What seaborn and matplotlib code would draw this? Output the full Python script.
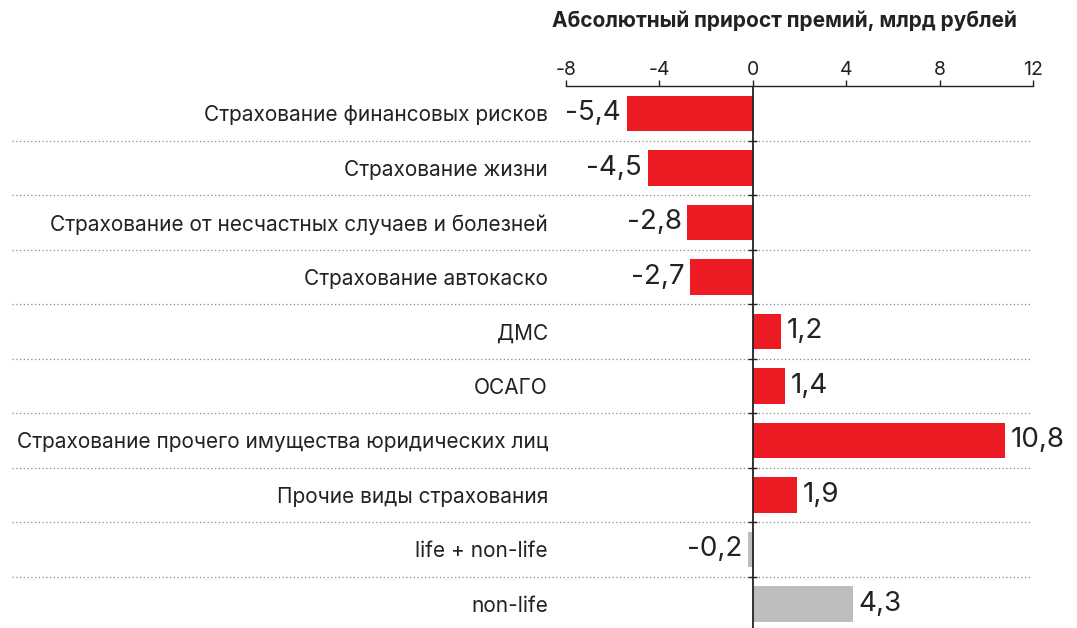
import seaborn as sns
import matplotlib.pyplot as plt
import pandas as pd

categories = [
    "Страхование финансовых рисков",
    "Страхование жизни",
    "Страхование от несчастных случаев и болезней",
    "Страхование автокаско",
    "ДМС",
    "ОСАГО",
    "Страхование прочего имущества юридических лиц",
    "Прочие виды страхования",
    "life + non-life",
    "non-life",
]
values = [-5.4, -4.5, -2.8, -2.7, 1.2, 1.4, 10.8, 1.9, -0.2, 4.3]
kinds = ["вид"] * 8 + ["итог"] * 2
x_ticks = [-8, -4, 0, 4, 8, 12]
title = "Абсолютный прирост премий, млрд рублей"

df = pd.DataFrame({"cat": categories, "val": values, "kind": kinds})

sns.set_style("white")
plt.rcParams["font.family"] = ["Inter", "DejaVu Sans"]
plt.rcParams["axes.unicode_minus"] = False

fig = plt.figure(figsize=(10.77, 6.28), dpi=100)
ax = fig.add_axes([566 / 1077, 0, 467 / 1077, 1 - 86 / 628])

sns.barplot(data=df, x="val", y="cat", hue="kind", dodge=False, orient="h",
            palette={"вид": "#ED1C24", "итог": "#BCBEC0"}, width=0.65,
            saturation=1, linewidth=0, legend=False, ax=ax)

for c in ax.containers:
    ax.bar_label(c, fmt=lambda v: f"{v:.1f}".replace(".", ","), padding=4,
                 fontsize=20, color="#222222")

ax.set_xlim(-8, 12)
ax.set_ylim(9.44, -0.5)
ax.set_xticks(x_ticks)
ax.set_xticklabels([str(t) for t in x_ticks])
ax.xaxis.tick_top()
ax.tick_params(axis="x", direction="out", length=4, width=1, pad=1,
               labelsize=14, colors="#222222")
ax.tick_params(axis="y", length=0, pad=13, labelsize=15, labelcolor="#222222")
ax.set_xlabel("")
ax.set_ylabel("")

for s in ["right", "bottom", "left"]:
    ax.spines[s].set_visible(False)
ax.spines["top"].set_color("#222222")
ax.spines["top"].set_linewidth(1)

ax.axvline(0, color="#222222", lw=1.3, zorder=5)
for i in range(len(categories) - 1):
    ax.axhline(i + 0.5, xmin=(12 - 566) / 467, xmax=(1032 - 566) / 467,
               color="#888888", lw=0.9, ls=(0, (1, 2)), clip_on=False, zorder=1)
ax.hlines([i + 0.5 for i in range(len(categories) - 1)], -0.2, 0.2,
          color="#222222", lw=1, zorder=5)

fig.text(784 / 1077, 1 - 21 / 628, title, ha="center", va="center",
         fontsize=15, fontweight="bold", color="#222222")

fig.savefig("out.png", dpi=100)
